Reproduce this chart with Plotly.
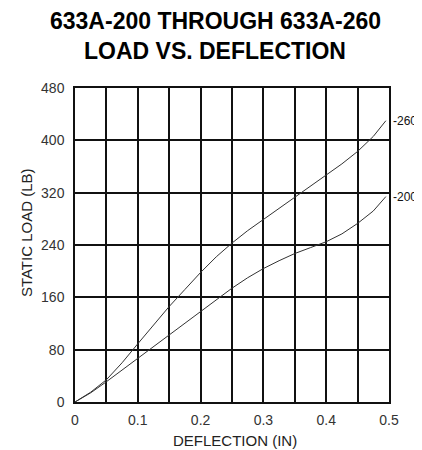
import plotly.graph_objects as go

# Data
deflection = [0, 0.025, 0.05, 0.075, 0.1, 0.125, 0.15, 0.175, 0.2, 0.225, 0.25,
              0.275, 0.3, 0.325, 0.35, 0.375, 0.4, 0.425, 0.45, 0.475, 0.495]
load_260 = [0, 15, 34, 60, 89, 118, 146, 172, 198, 222, 243,
            262, 279, 296, 313, 330, 347, 364, 383, 406, 430]
load_200 = [0, 14, 31, 49, 67, 85, 103, 121, 138, 156, 174,
            190, 204, 216, 227, 236, 245, 257, 273, 292, 314]
series_names = ["-260", "-200"]

x_tickvals = [0, 0.1, 0.2, 0.3, 0.4, 0.5]
x_ticktext = ["0", "0.1", "0.2", "0.3", "0.4", "0.5"]
y_tickvals = [0, 80, 160, 240, 320, 400, 480]
y_ticktext = ["0", "80", "160", "240", "320", "400", "480"]

title_lines = ["633A-200 THROUGH 633A-260", "LOAD VS. DEFLECTION"]
x_title = "DEFLECTION (IN)"
y_title = "STATIC LOAD (LB)"

FONT = "Liberation Sans, Arial, sans-serif"

fig = go.Figure()
for name, ys in zip(series_names, [load_260, load_200]):
    fig.add_trace(go.Scatter(x=deflection, y=ys, mode="lines", name=name,
                             line=dict(color="#333333", width=1),
                             showlegend=False, hoverinfo="skip"))
    fig.add_annotation(x=deflection[-1], y=ys[-1], xref="x", yref="y",
                       text=name, showarrow=False, xanchor="left", yanchor="middle",
                       xshift=5, font=dict(family=FONT, size=12, color="#111111"))

grid = dict(showgrid=True, gridcolor="#111111", gridwidth=1.5, zeroline=False,
            showline=True, linecolor="#111111", linewidth=1.5, mirror=True,
            ticks="", tickfont=dict(family=FONT, size=14, color="#333333"))

fig.update_xaxes(range=[0, 0.5], tickmode="array", tickvals=x_tickvals,
                 ticktext=x_ticktext, minor=dict(dtick=0.05, showgrid=True,
                 gridcolor="#111111", gridwidth=1.5, tick0=0),
                 ticklabelstandoff=4, **grid)
fig.update_yaxes(range=[0, 480], tickmode="array", tickvals=y_tickvals,
                 ticktext=y_ticktext, ticklabelstandoff=6, **grid)

# Title lines
fig.add_annotation(x=0.446, y=1.213, xref="paper", yref="paper", text=f"<b>{title_lines[0]}</b>",
                   showarrow=False, xanchor="center", yanchor="middle",
                   font=dict(family=FONT, size=23, color="#000000"))
fig.add_annotation(x=0.446, y=1.118, xref="paper", yref="paper", text=f"<b>{title_lines[1]}</b>",
                   showarrow=False, xanchor="center", yanchor="middle",
                   font=dict(family=FONT, size=23, color="#000000"))
# Axis titles
fig.add_annotation(x=0.51, y=-0.124, xref="paper", yref="paper", text=x_title,
                   showarrow=False, xanchor="center", yanchor="middle",
                   font=dict(family=FONT, size=15, color="#222222"))
fig.add_annotation(x=-0.156, y=0.538, xref="paper", yref="paper", text=y_title,
                   showarrow=False, xanchor="center", yanchor="middle", textangle=-90,
                   font=dict(family=FONT, size=15, color="#222222"))

# The page body adds an 8px offset, so the figure is sized to fit the window.
fig.update_layout(width=414, height=442, margin=dict(l=67, r=33, t=80, b=48),
                  paper_bgcolor="white", plot_bgcolor="white")

fig.write_html("out.html")
